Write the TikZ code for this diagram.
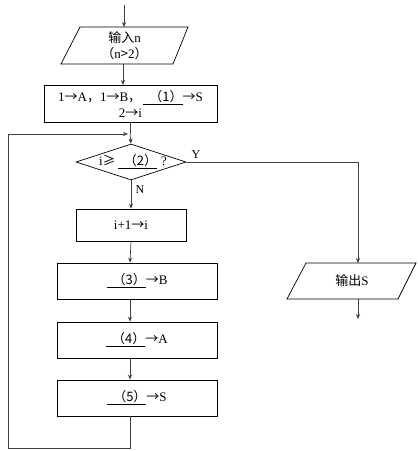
\documentclass[tikz,border=0pt]{standalone}
\usepackage{fontspec}
\setmainfont{Liberation Serif}
\newfontfamily\cjk{Noto Sans CJK SC}
\usetikzlibrary{arrows.meta,shapes.geometric,calc}
\newcommand{\ar}{{\cjk →}}
\newcommand{\blank}[1]{\underline{\hspace{6pt}{\cjk （#1）}}}
\begin{document}
\begin{tikzpicture}[x=1pt,y=-1pt,
  font=\fontsize{13}{16}\selectfont,
  line width=0.7pt,
  box/.style={draw, rectangle, minimum width=#1, inner sep=1pt},
  flow/.style={draw=black!75, -{Stealth[length=5pt,width=4pt]}},
  link/.style={draw=black!75},
  lbl/.style={inner sep=0pt, font=\fontsize{12}{14}\selectfont}]
\useasboundingbox (0,0) rectangle (418,451);

% coordinates
\coordinate (start) at (124,5);
\coordinate (colA) at (130,0);
% input parallelogram
\node[inner sep=0pt, minimum width=108, minimum height=37, align=center] (in) at (124.5,45.5) {{\cjk 输入}n\\{\cjk （}n{\cjk >}2{\cjk ）}};
\draw (80,27) -- (188,27) -- (173,64) -- (61,64) -- cycle;

% init box
\node[box=173, minimum height=37, align=center] (init) at (130.5,103.5)
  {1\ar A{\cjk ，}1\ar B{\cjk ，}\,\blank{1}\ar S\\2\ar i};

% decision
\node[diamond, draw, minimum width=110, minimum height=36, inner sep=0pt] (dec) at (131,162) {};
\node[inner sep=0pt] (dectext) at (133,162) {i{\cjk ≥}\,\blank{2}\hspace{4pt}?};

% process boxes
\node[box=110, minimum height=32] (inc) at (131,225) {i+1\ar i};
\node[box=160, minimum height=36] (p3) at (137,281) {\blank{3}\ar B};
\node[box=160, minimum height=36] (p4) at (137,340) {\blank{4}\ar A};
\node[box=160, minimum height=36] (p5) at (137,398) {\blank{5}\ar S};

% output parallelogram
\node[inner sep=0pt, minimum width=110, minimum height=36] (out) at (352,281) {{\cjk 输出}S};
\draw (306,263) -- (416,263) -- (398,299) -- (287,299) -- cycle;
\coordinate (outtop) at (358,263);
\coordinate (outbot) at (358,299);
\coordinate (end) at (358,319);

% loop corners
\coordinate (lpA) at (130,448);
\coordinate (lpB) at (8,448);
\coordinate (lpC) at (8,134);
\coordinate (lpD) at (130,134);
\coordinate (yc) at (358,162);

% connectors
\draw[flow] (start) -- (124,27);
\draw[flow] (123,64) -- (123,85);
\draw[link] (130,122) -- (lpD);
\draw[flow] (lpD) -- (dec.north);
\draw[flow] (dec.south) -- (inc.north);
\draw[flow] (inc.south) -- (p3.north -| colA);
\draw[flow] (p3.south -| colA) -- (p4.north -| colA);
\draw[flow] (p4.south -| colA) -- (p5.north -| colA);
\draw[link] (p5.south -| colA) -- (lpA) -- (lpB) -- (lpC);
\draw[flow] (lpC) -- (128,134);
\draw[flow] (dec.east) -- (yc) -- (outtop);
\draw[flow] (outbot) -- (end);

\node[lbl] (ylab) at (196,155) {Y};
\node[lbl] (nlab) at (140,190) {N};
\end{tikzpicture}
\end{document}
